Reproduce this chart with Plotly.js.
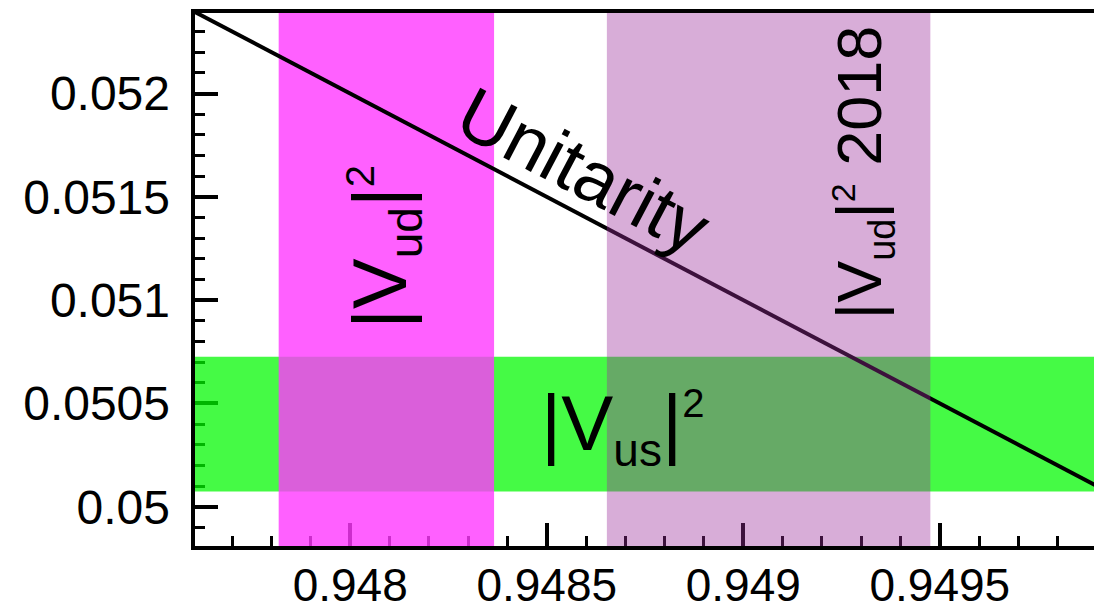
<!DOCTYPE html>
<html>
<head>
<meta charset="utf-8">
<script src="https://cdn.plot.ly/plotly-3.0.1.min.js"></script>
<style>
html,body{margin:0;padding:0;overflow:hidden;background:#fff;}
#chart{width:1100px;height:612px;}
</style>
</head>
<body>
<div id="chart"></div>
<script>
// Axis ranges
const xRange = [0.9476, 0.9499];
const yRange = [0.0498, 0.0524];

// Tick values / labels
const xTickVals = [0.948, 0.9485, 0.949, 0.9495];
const xTickText = ["0.948", "0.9485", "0.949", "0.9495"];
const yTickVals = [0.05, 0.0505, 0.051, 0.0515, 0.052];
const yTickText = ["0.05", "0.0505", "0.051", "0.0515", "0.052"];

// Bands (value intervals)
const vusBand = [0.050073, 0.050726];        // |Vus|^2 (horizontal band)
const vudBand = [0.947818, 0.948366];        // |Vud|^2
const vud2018Band = [0.948653, 0.949476];    // |Vud|^2 2018

// Unitarity line: |Vud|^2 + |Vus|^2 = 1
const unitX = [0.9476, 0.9499];
const unitY = [0.0524, 0.0501];

// Label positions (data coords)
const labelUnit = [0.948593, 0.05163];
const labelVud = [0.948085, 0.051257];
const labelVud18 = [0.949305, 0.05162];
const labelVus = [0.948692, 0.050382];

function vband(b, color) {
  return {x:[b[0], b[1], b[1], b[0], b[0]], y:[yRange[0], yRange[0], yRange[1], yRange[1], yRange[0]],
    mode:'lines', fill:'toself', fillcolor:color, line:{width:0}, hoverinfo:'skip', showlegend:false};
}
function hband(b, color) {
  return {x:[xRange[0], xRange[1], xRange[1], xRange[0], xRange[0]], y:[b[0], b[0], b[1], b[1], b[0]],
    mode:'lines', fill:'toself', fillcolor:color, line:{width:0}, hoverinfo:'skip', showlegend:false};
}

const traces = [
  hband(vusBand, 'rgba(0,248,0,0.73)'),
  vband(vudBand, 'rgba(255,56,255,0.8)'),
  {x:unitX, y:unitY, mode:'lines', line:{color:'#000', width:4}, showlegend:false, hoverinfo:'skip'},
  vband(vud2018Band, 'rgba(154,44,154,0.39)')
];

const annFont = "'Liberation Sans Narrow', 'Arial Narrow', 'Liberation Sans', Arial, sans-serif";
const layout = {
  width:1100, height:612,
  margin:{l:193, r:3, t:11, b:64},
  paper_bgcolor:'#fff', plot_bgcolor:'#fff',
  showlegend:false,
  font:{family:"'Liberation Sans', Arial, sans-serif", color:'#000'},
  xaxis:{range:xRange, tickmode:'array', tickvals:xTickVals, ticktext:xTickText,
    ticks:'inside', ticklen:25, tickwidth:4, tickcolor:'#000',
    minor:{tickmode:'linear', tick0:0.948, dtick:0.0001, ticks:'inside', ticklen:12, tickwidth:3, tickcolor:'#000', showgrid:false},
    showgrid:false, zeroline:false, showline:false, layer:'below traces',
    tickfont:{size:46, color:'#000'}, ticklabelstandoff:6},
  yaxis:{range:yRange, tickmode:'array', tickvals:yTickVals, ticktext:yTickText,
    ticks:'inside', ticklen:25, tickwidth:4, tickcolor:'#000',
    minor:{tickmode:'linear', tick0:0.05, dtick:0.0001, ticks:'inside', ticklen:12, tickwidth:3, tickcolor:'#000', showgrid:false},
    showgrid:false, zeroline:false, showline:false, layer:'below traces',
    tickfont:{size:48, color:'#000'}, ticklabelstandoff:22},
  shapes:[
    {type:'rect', xref:'paper', yref:'paper', x0:0, x1:1, y0:0, y1:1, line:{color:'#000', width:4}, fillcolor:'rgba(0,0,0,0)', layer:'above'}
  ],
  annotations:[
    {x:labelUnit[0], y:labelUnit[1], xref:'x', yref:'y', text:'Unitarity', showarrow:false, textangle:27.7,
      font:{family:annFont, size:74, color:'#000'}},
    {x:labelVud[0], y:labelVud[1], xref:'x', yref:'y', text:'|V<sub><span style="font-size:46px">ud</span></sub>|<sup><span style="font-size:40px">2</span></sup>', showarrow:false, textangle:-90,
      font:{family:annFont, size:76, color:'#000'}},
    {x:labelVud18[0], y:labelVud18[1], xref:'x', yref:'y', text:'|V<sub><span style="font-size:38px">ud</span></sub>|<sup><span style="font-size:34px">2</span></sup> 2018', showarrow:false, textangle:-90,
      font:{family:annFont, size:63, color:'#000'}},
    {x:labelVus[0], y:labelVus[1], xref:'x', yref:'y', text:'|V<sub><span style="font-size:46px">us</span></sub>|<sup><span style="font-size:40px">2</span></sup>', showarrow:false, textangle:0,
      font:{family:annFont, size:78, color:'#000'}}
  ]
};

Plotly.newPlot('chart', traces, layout, {displayModeBar:false, staticPlot:true});
</script>
</body>
</html>
